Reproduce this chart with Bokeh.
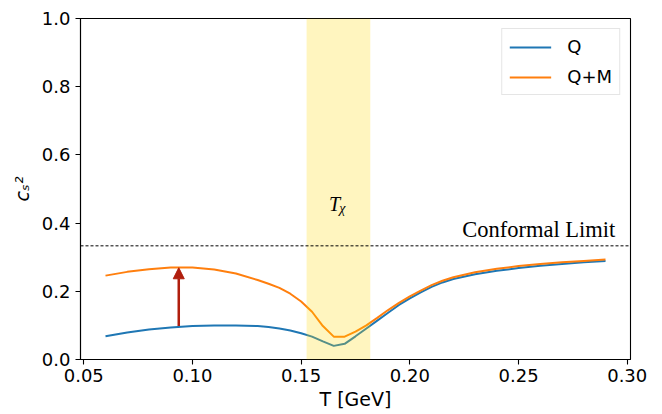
from bokeh.plotting import figure
from bokeh.models import (Range1d, FixedTicker, BoxAnnotation, Span, Label,
                          Arrow, NormalHead, NumeralTickFormatter)
from bokeh.embed import file_html
from bokeh.resources import INLINE

# ---- data ----
T = [0.06, 0.07, 0.08, 0.09, 0.10, 0.11, 0.12, 0.13, 0.135, 0.14, 0.145, 0.15,
     0.155, 0.16, 0.165, 0.17, 0.175, 0.18, 0.185, 0.19, 0.195, 0.20, 0.205,
     0.21, 0.215, 0.22, 0.23, 0.24, 0.25, 0.26, 0.27, 0.28, 0.29]
cs2_Q = [0.068, 0.079, 0.088, 0.094, 0.098, 0.100, 0.100, 0.098, 0.095, 0.091,
         0.085, 0.077, 0.067, 0.053, 0.040, 0.046, 0.068, 0.091, 0.114, 0.137,
         0.160, 0.179, 0.197, 0.213, 0.226, 0.236, 0.250, 0.260, 0.268, 0.275,
         0.280, 0.285, 0.289]
cs2_QM = [0.246, 0.257, 0.265, 0.270, 0.270, 0.264, 0.252, 0.233, 0.222, 0.210,
          0.193, 0.170, 0.140, 0.098, 0.067, 0.067, 0.082, 0.100, 0.122, 0.145,
          0.166, 0.185, 0.202, 0.218, 0.231, 0.241, 0.256, 0.266, 0.274, 0.280,
          0.285, 0.289, 0.293]
band_T = [0.1525, 0.1818]          # T_chi band
conformal_limit = 1.0 / 3.0
arrow_T = 0.0937
arrow_from, arrow_to = 0.098, 0.269
x_ticks = [0.05, 0.10, 0.15, 0.20, 0.25, 0.30]
y_ticks = [0.0, 0.2, 0.4, 0.6, 0.8, 1.0]

BLUE = "#1f77b4"
ORANGE = "#ff7f0e"

p = figure(width=662, height=414, output_backend="svg", toolbar_location=None,
           x_range=Range1d(0.0485, 0.3015), y_range=Range1d(0.0, 1.0),
           min_border_left=80, min_border_right=32, min_border_top=18,
           min_border_bottom=55)
p.background_fill_color = "white"
p.border_fill_color = "white"
p.outline_line_color = "black"
p.outline_line_width = 1.1
p.xgrid.visible = False
p.ygrid.visible = False

for ax in (p.xaxis[0], p.yaxis[0]):
    ax.axis_line_color = "black"
    ax.axis_line_width = 1.1
    ax.major_tick_line_color = "black"
    ax.major_tick_line_width = 1.1
    ax.major_tick_out = 5
    ax.major_tick_in = 0
    ax.minor_tick_line_color = None
    ax.major_label_text_font = "DejaVu Sans"
    ax.major_label_text_font_size = "18px"
    ax.major_label_text_color = "black"
    ax.axis_label_text_font = "DejaVu Sans"
    ax.axis_label_text_font_size = "19px"
    ax.axis_label_text_font_style = "normal"
    ax.axis_label_text_color = "black"
p.xaxis[0].ticker = FixedTicker(ticks=x_ticks)
p.yaxis[0].ticker = FixedTicker(ticks=y_ticks)
p.xaxis[0].formatter = NumeralTickFormatter(format="0.00")
p.yaxis[0].formatter = NumeralTickFormatter(format="0.0")
p.xaxis[0].major_label_standoff = 4
p.yaxis[0].major_label_standoff = 5
p.xaxis[0].axis_label = "T [GeV]"
p.xaxis[0].axis_label_standoff = 3
p.yaxis[0].axis_label = "cₛ²"
p.yaxis[0].axis_label_text_font_style = "italic"
p.yaxis[0].axis_label_standoff = 6

p.line(T, cs2_Q, line_color=BLUE, line_width=2, legend_label="Q")
p.line(T, cs2_QM, line_color=ORANGE, line_width=2, legend_label="Q+M")

p.add_layout(BoxAnnotation(left=band_T[0], right=band_T[1], fill_color="#FFD700",
                           fill_alpha=0.25, line_color=None))
p.add_layout(Span(location=conformal_limit, dimension="width", line_color="black",
                  line_width=1, line_dash="3 2"))

ARROW_C = "#b01e0e"
p.add_layout(Arrow(end=NormalHead(size=11, fill_color=ARROW_C, line_color=ARROW_C),
                   x_start=arrow_T, y_start=arrow_from, x_end=arrow_T, y_end=arrow_to,
                   line_color=ARROW_C, line_width=2.5))

p.add_layout(Label(x=0.2945, y=0.382, text="Conformal Limit", text_align="right",
                   text_baseline="alphabetic", text_font="Liberation Serif",
                   text_font_size="22.5px", text_color="black"))
p.add_layout(Label(x=0.1628, y=0.455, text="T", text_align="left",
                   text_baseline="alphabetic", text_font="Liberation Serif",
                   text_font_style="italic", text_font_size="20px", text_color="black"))
p.add_layout(Label(x=0.1675, y=0.443, text="χ", text_align="left",
                   text_baseline="alphabetic", text_font="Liberation Serif",
                   text_font_style="italic", text_font_size="14px", text_color="black"))

lg = p.legend[0]
lg.location = "top_right"
lg.margin = 10
lg.padding = 7
lg.spacing = 9
lg.glyph_width = 42
lg.glyph_height = 20
lg.label_height = 20
lg.label_standoff = 16
lg.label_text_font = "DejaVu Sans"
lg.label_text_font_size = "18px"
lg.label_text_color = "black"
lg.border_line_color = "#cccccc"
lg.border_line_width = 1
lg.background_fill_alpha = 0.8

open("out.html", "w").write(file_html(p, INLINE))
